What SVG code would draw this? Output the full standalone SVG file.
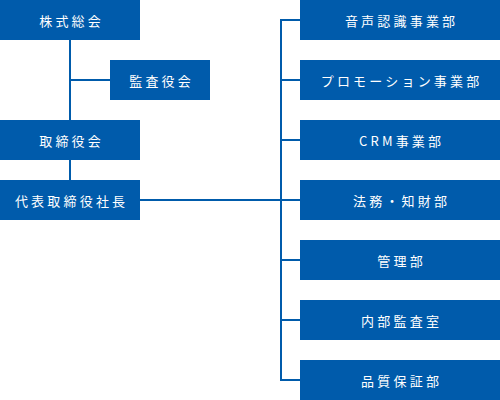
<svg xmlns="http://www.w3.org/2000/svg" width="500" height="400" viewBox="0 0 500 400">
<style>
.b{fill:#005bab}
.t{fill:#fff;font-family:"Noto Sans CJK JP","Noto Sans",sans-serif;font-size:13px;letter-spacing:3.2px;text-anchor:middle;dominant-baseline:central}
.c{stroke:#005bab;stroke-width:2;fill:none}
</style>
<rect width="500" height="400" fill="#fff"/>
<g id="connectors">
<path class="c" d="M70 40V120M70 80H110M70 160V180M140 200H280M281 20V380M280 20H300M280 80H300M280 140H300M280 200H300M280 260H300M280 320H300M280 380H300"/>
</g>
<g id="kabunushi"><rect class="b" x="0" y="0" width="140" height="40"/><text class="t" x="71.6" y="20">株式総会</text></g>
<g id="kansayaku"><rect class="b" x="110" y="60" width="100" height="40"/><text class="t" x="161.6" y="80">監査役会</text></g>
<g id="torishimariyaku"><rect class="b" x="0" y="120" width="140" height="40"/><text class="t" x="71.6" y="140">取締役会</text></g>
<g id="shacho"><rect class="b" x="0" y="180" width="140" height="40"/><text class="t" x="71.6" y="200">代表取締役社長</text></g>
<g id="onsei"><rect class="b" x="300" y="0" width="200" height="40"/><text class="t" x="401.6" y="20">音声認識事業部</text></g>
<g id="promotion"><rect class="b" x="300" y="60" width="200" height="40"/><text class="t" x="401.6" y="80">プロモーション事業部</text></g>
<g id="crm"><rect class="b" x="300" y="120" width="200" height="40"/><text class="t" x="401.6" y="140">CRM事業部</text></g>
<g id="houmu"><rect class="b" x="300" y="180" width="200" height="40"/><text class="t" x="401.6" y="200">法務・知財部</text></g>
<g id="kanri"><rect class="b" x="300" y="240" width="200" height="40"/><text class="t" x="401.6" y="260">管理部</text></g>
<g id="naibu"><rect class="b" x="300" y="300" width="200" height="40"/><text class="t" x="401.6" y="320">内部監査室</text></g>
<g id="hinshitsu"><rect class="b" x="300" y="360" width="200" height="40"/><text class="t" x="401.6" y="380">品質保証部</text></g>
</svg>
